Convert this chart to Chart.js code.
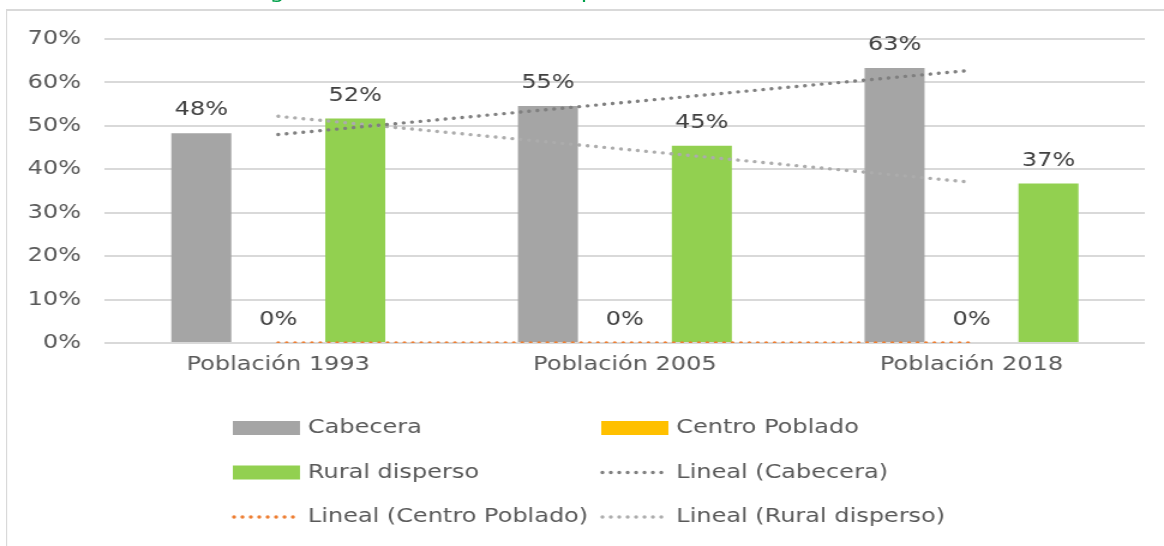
<!DOCTYPE html>
<html>
<head>
<meta charset="utf-8">
<script src="https://cdn.jsdelivr.net/npm/chart.js@4/dist/chart.umd.min.js"></script>
<style>
  html, body { margin: 0; padding: 0; background: #fff; overflow: hidden; }
  /* the reference is stretched sideways, so the whole stage is scaled in x */
  #stage {
    position: relative;
    width: 970px;
    height: 546px;
    transform: scaleX(1.2);
    transform-origin: 0 0;
  }
  #title {
    position: absolute;
    left: 7px;
    top: -19px;
    width: 970px;
    text-align: center;
    font: 20px/20px "DejaVu Sans", Verdana, sans-serif;
    color: #00a04a;
    white-space: nowrap;
  }
  #frame {
    position: absolute;
    left: 5px;
    top: 9px;
    width: 1100px;
    height: 700px;
    border-top: 2px solid #d9d9d9;
    border-left: 1.7px solid #d9d9d9;
  }
  #chart { position: absolute; left: 0; top: 0; }
</style>
</head>
<body>
<div id="stage">
  <div id="title">Figura 3. Distribución de la población en Tota 1993-2018</div>
  <div id="frame"></div>
  <canvas id="chart" width="970" height="546"></canvas>
</div>
<script>
const categories = ["Población 1993", "Población 2005", "Población 2018"];

const cabecera = [48.3, 54.6, 63.3];
const centroPoblado = [0, 0, 0];
const ruralDisperso = [51.7, 45.4, 36.7];

// linear trend lines as they appear in the picture
const trendCabecera = [48.0, 55.4, 62.8];
const trendCentro = [0, 0, 0];
const trendRural = [52.2, 44.6, 37.0];

const yMax = 70;
const yStep = 10;

Chart.defaults.font.family = "'DejaVu Sans', Verdana, sans-serif";
Chart.defaults.font.size = 20;
Chart.defaults.color = "#595959";

const DOTS = [0.01, 7];

// value labels above each bar
const barLabels = {
  id: "barLabels",
  afterDatasetsDraw(chart) {
    const ctx = chart.ctx;
    ctx.save();
    ctx.fillStyle = "#404040";
    ctx.font = "20px 'DejaVu Sans', Verdana, sans-serif";
    ctx.textAlign = "center";
    ctx.textBaseline = "middle";
    chart.data.datasets.forEach((ds, i) => {
      if (ds.type !== "bar") return;
      chart.getDatasetMeta(i).data.forEach((bar, j) => {
        ctx.fillText(Math.round(ds.data[j]) + "%", bar.x, bar.y - 23);
      });
    });
    ctx.restore();
  },
};

// two-column legend like the original
const gridLegend = {
  id: "gridLegend",
  afterDraw(chart) {
    const ctx = chart.ctx;
    chart.data.datasets.forEach((ds, i) => {
      const x = i % 2 === 0 ? 194 : 501;
      const y = 428 + Math.floor(i / 2) * 44.5;
      ctx.save();
      if (ds.type === "line") {
        ctx.strokeStyle = ds.borderColor;
        ctx.lineWidth = ds.borderWidth;
        ctx.lineCap = "round";
        ctx.setLineDash(DOTS);
        ctx.beginPath();
        ctx.moveTo(x + 1, y);
        ctx.lineTo(x + 55, y);
        ctx.stroke();
      } else {
        ctx.fillStyle = ds.backgroundColor;
        ctx.fillRect(x, y - 7, 56, 14);
      }
      ctx.setLineDash([]);
      ctx.fillStyle = "#595959";
      ctx.font = "20px 'DejaVu Sans', Verdana, sans-serif";
      ctx.textAlign = "left";
      ctx.textBaseline = "middle";
      ctx.fillText(ds.label, x + 62.5, y);
      ctx.restore();
    });
  },
};

function trend(label, data, color) {
  return {
    type: "line",
    label: label,
    data: data,
    borderColor: color,
    borderWidth: 3.4,
    borderDash: DOTS,
    borderCapStyle: "round",
    pointRadius: 0,
    fill: false,
    tension: 0,
    order: 0,
  };
}

function bars(label, data, color) {
  return {
    type: "bar",
    label: label,
    data: data,
    backgroundColor: color,
    categoryPercentage: 0.666,
    barPercentage: 0.78,
    order: 1,
  };
}

new Chart(document.getElementById("chart"), {
  data: {
    labels: categories,
    datasets: [
      bars("Cabecera", cabecera, "#a5a5a5"),
      bars("Centro Poblado", centroPoblado, "#ffc000"),
      bars("Rural disperso", ruralDisperso, "#92d050"),
      trend("Lineal (Cabecera)", trendCabecera, "#7f7f7f"),
      trend("Lineal (Centro Poblado)", trendCentro, "#ed7d31"),
      trend("Lineal (Rural disperso)", trendRural, "#acacac"),
    ],
  },
  options: {
    responsive: false,
    animation: false,
    devicePixelRatio: 1,
    layout: { padding: { left: 3, right: 16, top: 39, bottom: 159 } },
    plugins: {
      legend: { display: false },
      tooltip: { enabled: false },
    },
    scales: {
      x: {
        grid: { display: false, drawTicks: false },
        border: { display: false },
        ticks: { padding: 10, color: "#595959" },
      },
      y: {
        min: 0,
        max: yMax,
        ticks: {
          stepSize: yStep,
          padding: 20,
          color: "#595959",
          callback: (v) => v + "%",
        },
        grid: { color: "#d9d9d9", lineWidth: 2, drawTicks: false },
        border: { display: false },
      },
    },
  },
  plugins: [barLabels, gridLegend],
});
</script>
</body>
</html>
